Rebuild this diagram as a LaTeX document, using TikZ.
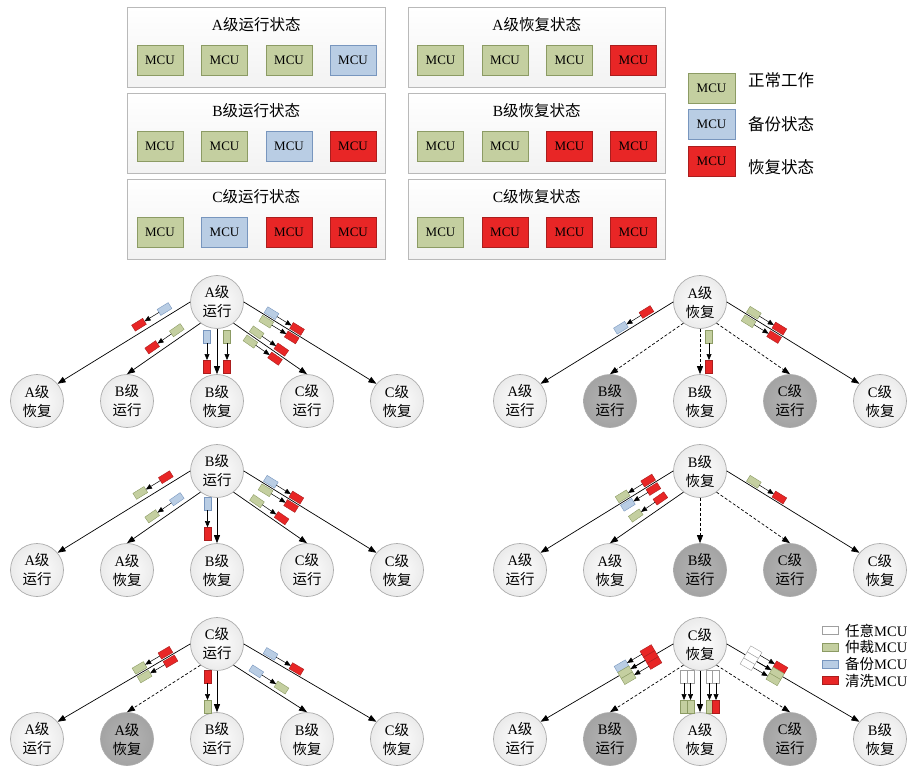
\documentclass[tikz,border=0pt]{standalone}
\usepackage{fontspec}
\setmainfont{Liberation Serif}
\newfontfamily\cjk{Noto Sans CJK SC}
\usetikzlibrary{arrows.meta,calc}
\newcommand\zh[1]{{\cjk #1}}
\newcommand\lab[2]{#1\zh{级}\\\zh{#2}}
\definecolor{mgreen}{RGB}{196,207,160}
\definecolor{mgreenb}{RGB}{140,155,100}
\definecolor{mblue}{RGB}{185,205,228}
\definecolor{mblueb}{RGB}{120,150,190}
\definecolor{mred}{RGB}{232,38,38}
\definecolor{mredb}{RGB}{170,30,30}
\tikzset{
  panel/.style={draw=gray!55, top color=white, bottom color=gray!10, line width=0.6pt},
  ttl/.style={inner sep=0pt, font=\fontsize{15.5}{16}\selectfont},
  mcu/.style={draw, minimum width=46pt, minimum height=30pt, inner sep=0pt, line width=0.6pt, font=\fontsize{13}{13}\selectfont},
  sgreen/.style={fill=mgreen, draw=mgreenb},
  sblue/.style={fill=mblue, draw=mblueb},
  sred/.style={fill=mred, draw=mredb},
  swhite/.style={fill=white, draw=gray!75},
  lt/.style={inner sep=0pt, anchor=west, font=\fontsize{16.5}{17}\selectfont},
  lt2/.style={inner sep=0pt, anchor=west, font=\fontsize{14.5}{15}\selectfont},
  sleg/.style={draw, minimum width=16pt, minimum height=8pt, inner sep=0pt, line width=0.5pt},
  wc/.style={circle, draw=gray!65, line width=0.7pt, inner color=white, outer color=gray!16,
    minimum size=53pt, inner sep=0pt, align=center, font=\fontsize{14.5}{19}\selectfont},
  gc/.style={wc, inner color=gray!58, outer color=gray!72},
  conn/.style={-{Triangle[length=8pt,width=6pt]}, line width=0.7pt},
  dconn/.style={conn, dash pattern=on 3pt off 2pt},
  pics/mk/.style n args={3}{code={
    \draw[line width=0.4pt,#1] (-21.5,{#3-3.5}) rectangle (-8.5,{#3+3.5});
    \draw[line width=0.4pt,#2] (8.5,{#3-3.5}) rectangle (21.5,{#3+3.5});
    \draw[-{Triangle[length=6pt,width=5pt]}, line width=0.5pt] (-8.5,#3) -- (8.5,#3);
  }}
}
\newcommand\mk[6]{\path (#1) -- (#2) pic[pos=#3,sloped,allow upside down]{mk={#4}{#5}{#6}};}
\newcommand\pnl[8]{%
  \draw[panel] (#2,-#3) rectangle ++(257.5,-80);
  \node[ttl] (#1t) at ({#2+128.75},{-#3-17.5}) {#4};
  \node[mcu,#5] (#1a) at ({#2+32.5},{-#3-53}) {MCU};
  \node[mcu,#6] (#1b) at ({#2+97},{-#3-53}) {MCU};
  \node[mcu,#7] (#1c) at ({#2+161.5},{-#3-53}) {MCU};
  \node[mcu,#8] (#1d) at ({#2+225.5},{-#3-53}) {MCU};}
\newcommand\fan[6]{%
  \draw[#2] (#1P.180) -- (#11.40);
  \draw[#3] (#1P.232) -- (#12.90);
  \draw[#4] (#1P.270) -- (#13.90);
  \draw[#5] (#1P.308) -- (#14.90);
  \draw[#6] (#1P.0) -- (#15.140);}
\begin{document}
\begin{tikzpicture}[x=1pt,y=1pt]
\useasboundingbox (0,0) rectangle (910,-778);
% ---- state panels
\pnl{pa}{127.5}{7}{A\zh{级运行状态}}{sgreen}{sgreen}{sgreen}{sblue}
\pnl{pb}{127.5}{93}{B\zh{级运行状态}}{sgreen}{sgreen}{sblue}{sred}
\pnl{pc}{127.5}{179}{C\zh{级运行状态}}{sgreen}{sblue}{sred}{sred}
\pnl{pd}{408}{7}{A\zh{级恢复状态}}{sgreen}{sgreen}{sgreen}{sred}
\pnl{pe}{408}{93}{B\zh{级恢复状态}}{sgreen}{sgreen}{sred}{sred}
\pnl{pf}{408}{179}{C\zh{级恢复状态}}{sgreen}{sred}{sred}{sred}
% ---- legend top
\node[mcu,sgreen,minimum width=47pt] (L1) at (711.5,-88) {MCU};
\node[mcu,sblue,minimum width=47pt] (L2) at (711.5,-124.7) {MCU};
\node[mcu,sred,minimum width=47pt] (L3) at (711.5,-161.7) {MCU};
\node[lt] (L1t) at (748,-80.7) {\zh{正常工作}};
\node[lt] (L2t) at (748,-124) {\zh{备份状态}};
\node[lt] (L3t) at (748,-167.3) {\zh{恢复状态}};
% ---- legend bottom
\node[sleg,swhite] (k1) at (830,-630.5) {};
\node[sleg,sgreen] (k2) at (830,-647) {};
\node[sleg,sblue] (k3) at (830,-664) {};
\node[sleg,sred] (k4) at (830,-680.5) {};
\node[lt2] (k1t) at (845,-630.5) {\zh{任意}MCU};
\node[lt2] (k2t) at (845,-647) {\zh{仲裁}MCU};
\node[lt2] (k3t) at (845,-664) {\zh{备份}MCU};
\node[lt2] (k4t) at (845,-680.5) {\zh{清洗}MCU};
% ---- tree a : A run
\node[wc] (aP) at (217,-302) {\lab{A}{运行}};
\node[wc] (a1) at (37,-401) {\lab{A}{恢复}};
\node[wc] (a2) at (127,-401) {\lab{B}{运行}};
\node[wc] (a3) at (217,-401) {\lab{B}{恢复}};
\node[wc] (a4) at (307,-401) {\lab{C}{运行}};
\node[wc] (a5) at (397,-401) {\lab{C}{恢复}};
\fan{a}{conn}{conn}{conn}{conn}{conn}
\mk{aP.180}{a1.40}{.26}{sblue}{sred}{-7.5}
\mk{aP.232}{a2.90}{.43}{sgreen}{sred}{-7.7}
\mk{aP.270}{a3.90}{.5}{sblue}{sred}{-10}
\mk{aP.270}{a3.90}{.5}{sgreen}{sred}{10}
\mk{aP.308}{a4.90}{.44}{sgreen}{sred}{5.5}
\mk{aP.308}{a4.90}{.44}{sgreen}{sred}{-5.5}
\mk{aP.0}{a5.140}{.285}{sblue}{sred}{5}
\mk{aP.0}{a5.140}{.285}{sgreen}{sred}{-5}
% ---- tree b : A recover
\node[wc] (bP) at (700,-302) {\lab{A}{恢复}};
\node[wc] (b1) at (520,-401) {\lab{A}{运行}};
\node[gc] (b2) at (610,-401) {\lab{B}{运行}};
\node[wc] (b3) at (700,-401) {\lab{B}{恢复}};
\node[gc] (b4) at (790,-401) {\lab{C}{运行}};
\node[wc] (b5) at (880,-401) {\lab{C}{恢复}};
\fan{b}{conn}{dconn}{dconn}{dconn}{conn}
\mk{bP.180}{b1.40}{.276}{sred}{sblue}{-5.5}
\mk{bP.270}{b3.90}{.5}{sgreen}{sred}{9}
\mk{bP.0}{b5.140}{.28}{sgreen}{sred}{5}
\mk{bP.0}{b5.140}{.28}{sgreen}{sred}{-5}
% ---- tree c : B run
\node[wc] (cP) at (217,-471) {\lab{B}{运行}};
\node[wc] (c1) at (37,-570) {\lab{A}{运行}};
\node[wc] (c2) at (127,-570) {\lab{A}{恢复}};
\node[wc] (c3) at (217,-570) {\lab{B}{恢复}};
\node[wc] (c4) at (307,-570) {\lab{C}{运行}};
\node[wc] (c5) at (397,-570) {\lab{C}{恢复}};
\fan{c}{conn}{conn}{conn}{conn}{conn}
\mk{cP.180}{c1.40}{.25}{sred}{sgreen}{-7.5}
\mk{cP.232}{c2.90}{.43}{sblue}{sgreen}{-7.7}
\mk{cP.270}{c3.90}{.46}{sblue}{sred}{-9.5}
\mk{cP.308}{c4.90}{.44}{sgreen}{sred}{6}
\mk{cP.0}{c5.140}{.28}{sblue}{sred}{5}
\mk{cP.0}{c5.140}{.28}{sgreen}{sred}{-5}
% ---- tree d : B recover
\node[wc] (dP) at (700,-471) {\lab{B}{恢复}};
\node[wc] (d1) at (520,-570) {\lab{A}{运行}};
\node[wc] (d2) at (610,-570) {\lab{A}{恢复}};
\node[gc] (d3) at (700,-570) {\lab{B}{运行}};
\node[gc] (d4) at (790,-570) {\lab{C}{运行}};
\node[wc] (d5) at (880,-570) {\lab{C}{恢复}};
\fan{d}{conn}{conn}{dconn}{dconn}{conn}
\mk{dP.180}{d1.40}{.265}{sred}{sgreen}{-5}
\mk{dP.180}{d1.40}{.265}{sred}{sblue}{5}
\mk{dP.232}{d2.90}{.42}{sred}{sgreen}{-8}
\mk{dP.0}{d5.140}{.28}{sgreen}{sred}{5}
% ---- tree e : C run
\node[wc] (eP) at (217,-644) {\lab{C}{运行}};
\node[wc] (e1) at (37,-739) {\lab{A}{运行}};
\node[gc] (e2) at (127,-739) {\lab{A}{恢复}};
\node[wc] (e3) at (217,-739) {\lab{B}{运行}};
\node[wc] (e4) at (307,-739) {\lab{B}{恢复}};
\node[wc] (e5) at (397,-739) {\lab{C}{恢复}};
\fan{e}{conn}{dconn}{conn}{conn}{conn}
\mk{eP.180}{e1.40}{.265}{sred}{sgreen}{-5}
\mk{eP.180}{e1.40}{.265}{sred}{sgreen}{5}
\mk{eP.270}{e3.90}{.5}{sred}{sgreen}{-9.5}
\mk{eP.308}{e4.90}{.43}{sblue}{sgreen}{7}
\mk{eP.0}{e5.140}{.28}{sblue}{sred}{5}
% ---- tree f : C recover
\node[wc] (fP) at (700,-644) {\lab{C}{恢复}};
\node[wc] (f1) at (520,-739) {\lab{A}{运行}};
\node[gc] (f2) at (610,-739) {\lab{B}{运行}};
\node[wc] (f3) at (700,-739) {\lab{A}{恢复}};
\node[gc] (f4) at (790,-739) {\lab{C}{运行}};
\node[wc] (f5) at (880,-739) {\lab{B}{恢复}};
\fan{f}{conn}{dconn}{conn}{dconn}{conn}
\mk{fP.180}{f1.40}{.265}{sred}{sblue}{-7}
\mk{fP.180}{f1.40}{.265}{sred}{sgreen}{0}
\mk{fP.180}{f1.40}{.265}{sred}{sgreen}{7}
\mk{fP.270}{f3.90}{.5}{swhite}{sgreen}{-16}
\mk{fP.270}{f3.90}{.5}{swhite}{sgreen}{-9.5}
\mk{fP.270}{f3.90}{.5}{swhite}{sgreen}{9.5}
\mk{fP.270}{f3.90}{.5}{swhite}{sred}{16}
\mk{fP.0}{f5.140}{.28}{swhite}{sred}{7}
\mk{fP.0}{f5.140}{.28}{swhite}{sgreen}{0}
\mk{fP.0}{f5.140}{.28}{swhite}{sgreen}{-7}
\end{tikzpicture}
\end{document}
